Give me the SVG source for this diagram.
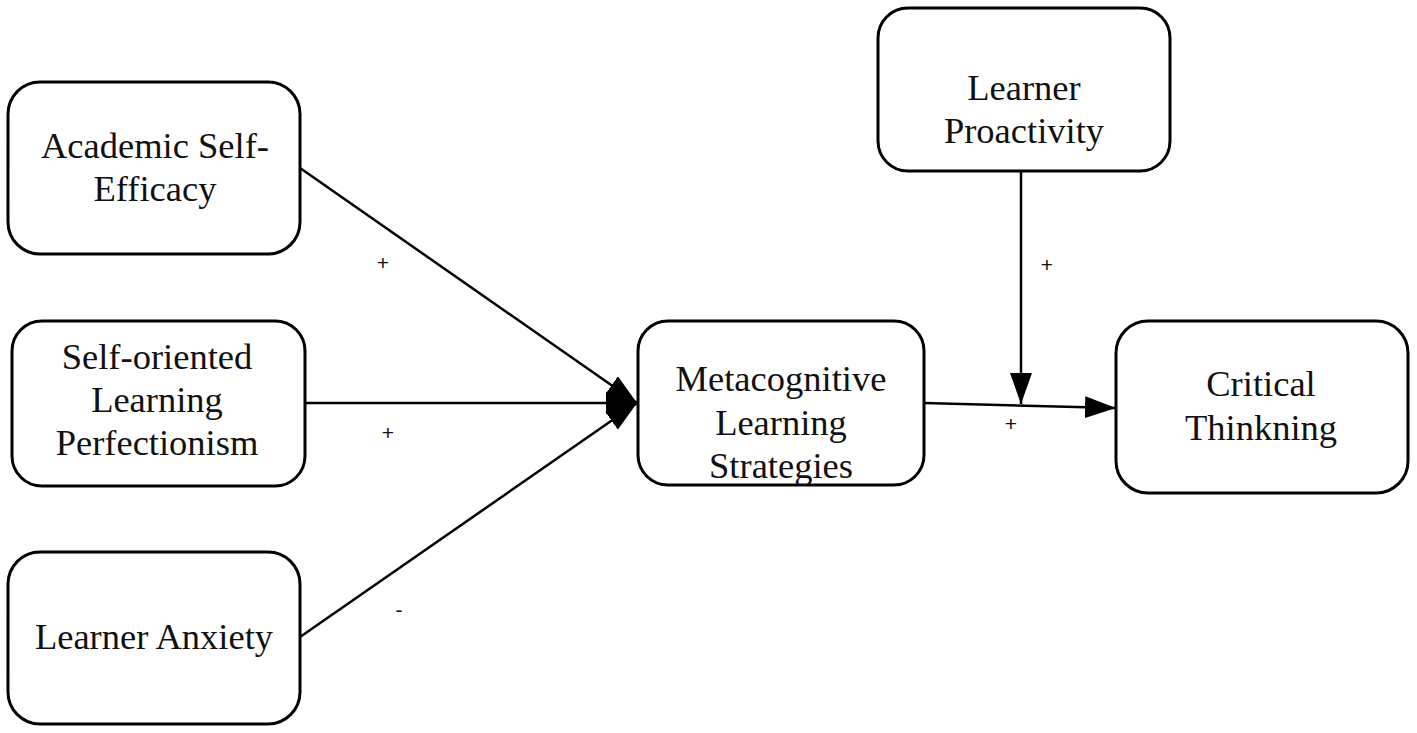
<svg xmlns="http://www.w3.org/2000/svg" width="1417" height="733" viewBox="0 0 1417 733">
<defs>
<style>
.box{fill:#fff;stroke:#000;stroke-width:3}
.t{font-family:"Liberation Serif","Times New Roman",serif;font-size:36.5px;fill:#111;text-anchor:middle}
.s{font-family:"Liberation Sans",Arial,sans-serif;font-size:21px;fill:#111;text-anchor:middle}
.c{stroke:#000;stroke-width:2.5;fill:none}
</style>
<marker id="ah" viewBox="0 0 31 22" refX="31" refY="11" markerWidth="31" markerHeight="22" markerUnits="userSpaceOnUse" orient="auto">
<path d="M0,0 L31,11 L0,22 Z" fill="#000"/>
</marker>
</defs>
<rect width="1417" height="733" fill="#fff"/>
<g id="connectors">
<line class="c" x1="300" y1="168" x2="637" y2="403" marker-end="url(#ah)"/>
<line class="c" x1="305" y1="403" x2="637" y2="403" marker-end="url(#ah)"/>
<line class="c" x1="300" y1="637" x2="637" y2="403" marker-end="url(#ah)"/>
<line class="c" x1="1021" y1="172" x2="1021" y2="404" marker-end="url(#ah)"/>
<line class="c" x1="924" y1="403" x2="1116" y2="408" marker-end="url(#ah)"/>
<text class="s" x="383" y="270">+</text>
<text class="s" x="388" y="440">+</text>
<text class="s" x="399" y="617">-</text>
<text class="s" x="1047" y="272">+</text>
<text class="s" x="1011" y="431">+</text>
</g>
<g id="n1">
<rect class="box" x="8" y="82" width="292" height="172" rx="32"/>
<text class="t" x="155" y="158">Academic Self-</text>
<text class="t" x="155" y="201">Efficacy</text>
</g>
<g id="n2">
<rect class="box" x="12" y="321" width="293" height="165" rx="30"/>
<text class="t" x="157" y="369">Self-oriented</text>
<text class="t" x="157" y="412">Learning</text>
<text class="t" x="157" y="455">Perfectionism</text>
</g>
<g id="n3">
<rect class="box" x="8" y="552" width="292" height="172" rx="32"/>
<text class="t" x="154" y="649">Learner Anxiety</text>
</g>
<g id="n4">
<rect class="box" x="638" y="321" width="286" height="164" rx="30"/>
<text class="t" x="781" y="391">Metacognitive</text>
<text class="t" x="781" y="435">Learning</text>
<text class="t" x="781" y="478">Strategies</text>
</g>
<g id="n5">
<rect class="box" x="878" y="8" width="292" height="163" rx="30"/>
<text class="t" x="1024" y="100">Learner</text>
<text class="t" x="1024" y="143">Proactivity</text>
</g>
<g id="n6">
<rect class="box" x="1116" y="321" width="292" height="172" rx="32"/>
<text class="t" x="1261" y="396">Critical</text>
<text class="t" x="1261" y="440">Thinkning</text>
</g>
</svg>
